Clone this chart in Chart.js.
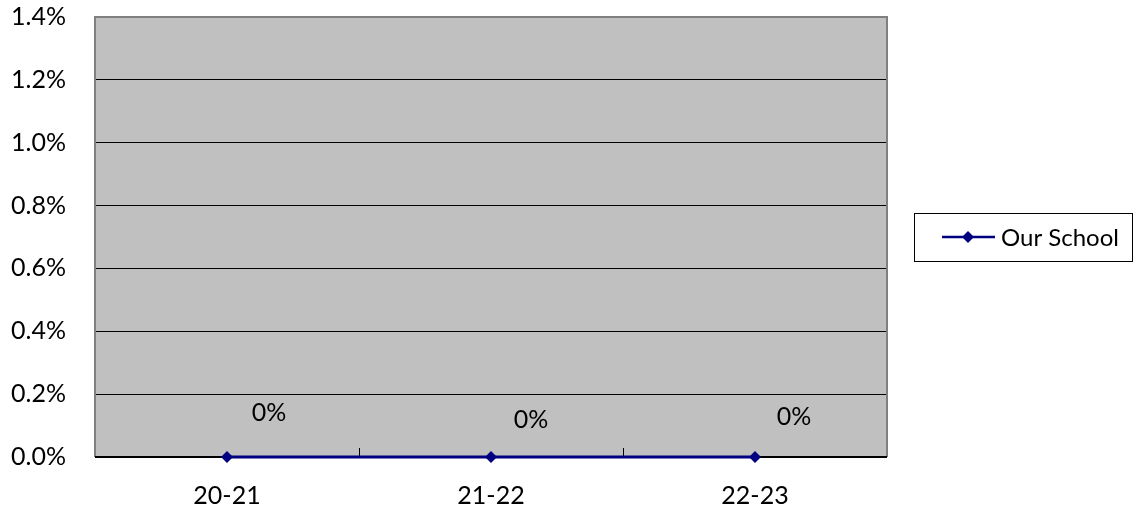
<!DOCTYPE html>
<html>
<head>
<meta charset="utf-8">
<title>Our School</title>
<script src="https://cdn.jsdelivr.net/npm/chart.js@4.4.1/dist/chart.umd.min.js"></script>
<style>
    html, body { margin: 0; padding: 0; background: #fff; }
    #wrap { width: 1133px; height: 514px; }
</style>
</head>
<body>
<div id="wrap"><canvas id="schoolChart" width="1133" height="514"></canvas></div>
<script>
// Chart data
const years = ['20-21', '21-22', '22-23'];
const ourSchool = [0, 0, 0];
const yTicks = [0, 0.2, 0.4, 0.6, 0.8, 1.0, 1.2, 1.4];

const FONT = 'Lato, Calibri, sans-serif';
const FONT_SIZE = 25;
const NAVY = '#000080';

// hand-placed label offsets (px) from each point
const labelShift = [
    { dx: 42, dy: -44 },
    { dx: 40, dy: -37 },
    { dx: 39, dy: -40 }
];

// gray plot area, borders, axis line and category ticks
const plotFrame = {
    id: 'plotFrame',
    beforeDraw(chart) {
        const { ctx, chartArea: a } = chart;
        ctx.save();
        ctx.fillStyle = '#c0c0c0';
        ctx.fillRect(a.left, a.top, a.right - a.left, a.bottom - a.top);
        ctx.restore();
    },
    beforeDatasetsDraw(chart) {
        const { ctx, chartArea: a, scales } = chart;
        ctx.save();
        ctx.strokeStyle = '#808080';
        ctx.lineWidth = 2;
        ctx.beginPath();
        ctx.moveTo(a.left, a.bottom);
        ctx.lineTo(a.left, a.top);
        ctx.lineTo(a.right, a.top);
        ctx.lineTo(a.right, a.bottom);
        ctx.stroke();

        ctx.strokeStyle = '#000';
        ctx.lineWidth = 1;
        ctx.beginPath();
        ctx.moveTo(a.left, a.bottom - 0.5);
        ctx.lineTo(a.right, a.bottom - 0.5);
        // small ticks between categories
        for (let i = 0; i < years.length - 1; i++) {
            const x = Math.round((scales.x.getPixelForTick(i) + scales.x.getPixelForTick(i + 1)) / 2) + 0.5;
            ctx.moveTo(x, a.bottom);
            ctx.lineTo(x, a.bottom - 9);
        }
        ctx.stroke();
        ctx.restore();
    },
    afterDatasetsDraw(chart) {
        const { ctx } = chart;
        const meta = chart.getDatasetMeta(0);
        ctx.save();
        ctx.fillStyle = '#000';
        ctx.font = FONT_SIZE + 'px ' + FONT;
        ctx.textAlign = 'center';
        ctx.textBaseline = 'middle';
        meta.data.forEach(function(pt, i) {
            const v = chart.data.datasets[0].data[i];
            ctx.fillText(Math.round(v) + '%', pt.x + labelShift[i].dx, pt.y + labelShift[i].dy);
        });
        ctx.restore();
    },
    afterDraw(chart) {
        // legend box on the right
        const { ctx } = chart;
        ctx.save();
        ctx.strokeStyle = '#000';
        ctx.lineWidth = 1;
        ctx.strokeRect(914.5, 213.5, 218, 48);
        ctx.strokeStyle = NAVY;
        ctx.lineWidth = 2.5;
        ctx.beginPath();
        ctx.moveTo(942, 237);
        ctx.lineTo(995, 237);
        ctx.stroke();
        ctx.fillStyle = NAVY;
        ctx.beginPath();
        ctx.moveTo(968, 231);
        ctx.lineTo(974, 237);
        ctx.lineTo(968, 243);
        ctx.lineTo(962, 237);
        ctx.closePath();
        ctx.fill();
        ctx.fillStyle = '#000';
        ctx.font = '24px ' + FONT;
        ctx.textAlign = 'left';
        ctx.textBaseline = 'middle';
        ctx.fillText(chart.data.datasets[0].label, 1001, 238);
        ctx.restore();
    }
};

new Chart(document.getElementById('schoolChart'), {
    type: 'line',
    data: {
        labels: years,
        datasets: [{
            label: 'Our School',
            data: ourSchool,
            borderColor: NAVY,
            backgroundColor: NAVY,
            borderWidth: 3,
            pointStyle: 'rectRot',
            pointRadius: 6,
            pointBackgroundColor: NAVY,
            pointBorderWidth: 0,
            clip: false
        }]
    },
    options: {
        responsive: false,
        animation: false,
        layout: { autoPadding: false, padding: { top: 17, right: 246, bottom: 0, left: 0 } },
        plugins: {
            legend: { display: false },
            tooltip: { enabled: false }
        },
        scales: {
            x: {
                offset: true,
                grid: { display: false },
                border: { display: false },
                ticks: {
                    color: '#000',
                    padding: 16,
                    font: { family: FONT, size: FONT_SIZE }
                },
                afterFit(scale) {
                    scale.height = 57;
                    scale.paddingLeft = 0;
                    scale.paddingRight = 0;
                }
            },
            y: {
                min: 0,
                max: 1.4,
                afterBuildTicks(scale) {
                    scale.ticks = yTicks.map(function(v) { return { value: v }; });
                },
                grid: { color: '#000', lineWidth: 1, drawTicks: false },
                border: { display: false },
                ticks: {
                    color: '#000',
                    padding: 29,
                    font: { family: FONT, size: FONT_SIZE },
                    callback: function(v) { return v.toFixed(1) + '%'; }
                },
                afterFit(scale) {
                    scale.width = 95;
                    scale.paddingTop = 0;
                    scale.paddingBottom = 0;
                }
            }
        }
    },
    plugins: [plotFrame]
});
</script>
</body>
</html>
